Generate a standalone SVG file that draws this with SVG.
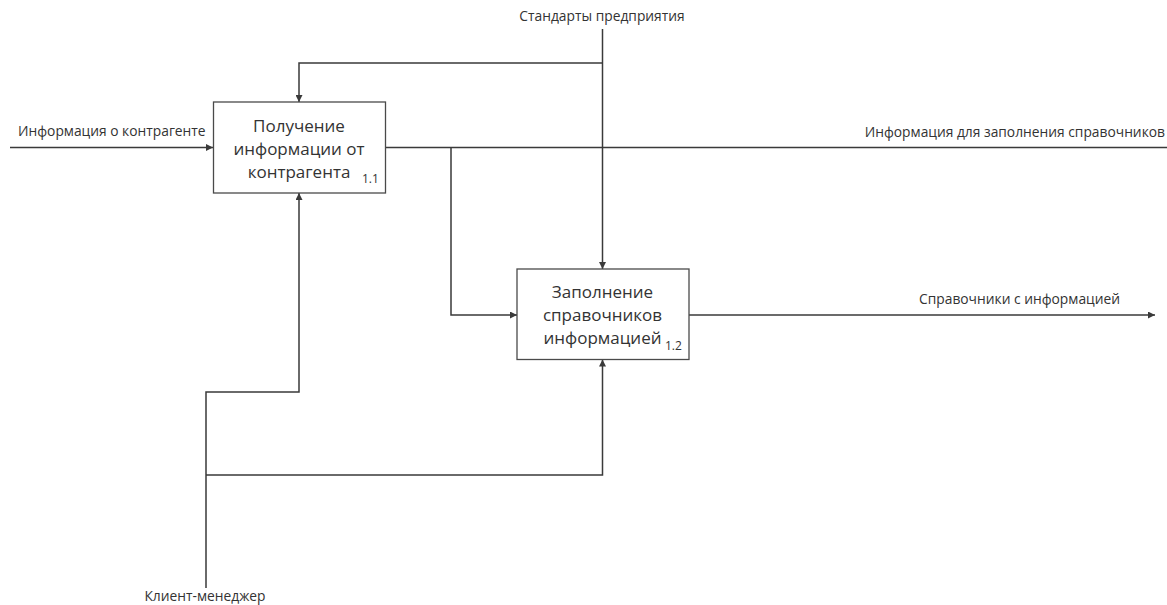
<svg xmlns="http://www.w3.org/2000/svg" width="1167" height="605" viewBox="0 0 1167 605">
<defs>
<marker id="ah" viewBox="0 0 10 10" refX="10" refY="5" markerWidth="7" markerHeight="7" markerUnits="userSpaceOnUse" orient="auto">
<path d="M0,0 L10,5 L0,10 z" fill="#3a3a3a"/>
</marker>
<style>
.ln{fill:none;stroke:#3a3a3a;stroke-width:1.5;}
.box{fill:#fff;stroke:#4a4a4a;stroke-width:1.3;}
.lbl{font-family:"Open Sans","Noto Sans",sans-serif;font-size:13.8px;fill:#333;}
.bt{font-family:"Open Sans","Noto Sans",sans-serif;font-size:17px;fill:#333;text-anchor:middle;}
.num{font-family:"Open Sans","Noto Sans",sans-serif;font-size:12px;fill:#333;}
</style>
</defs>
<rect width="1167" height="605" fill="#fff"/>
<g id="connectors">
<path class="ln" d="M10,147.5 H213" marker-end="url(#ah)"/>
<path class="ln" d="M602.5,29 V269" marker-end="url(#ah)"/>
<path class="ln" d="M602.5,63 H299 V102" marker-end="url(#ah)"/>
<path class="ln" d="M385.5,147.5 H1167"/>
<path class="ln" d="M451,147.5 V315 H517" marker-end="url(#ah)"/>
<path class="ln" d="M689,315 H1155" marker-end="url(#ah)"/>
<path class="ln" d="M206,588 V392 H299 V193" marker-end="url(#ah)"/>
<path class="ln" d="M206,475 H602.5 V359.5" marker-end="url(#ah)"/>
</g>
<g id="labels">
<text class="lbl" x="18" y="136">Информация о контрагенте</text>
<text class="lbl" x="602" y="21" text-anchor="middle">Стандарты предприятия</text>
<text class="lbl" x="1165" y="137" text-anchor="end">Информация для заполнения справочников</text>
<text class="lbl" x="1120" y="304" text-anchor="end">Справочники с информацией</text>
<text class="lbl" x="205" y="601" text-anchor="middle">Клиент-менеджер</text>
</g>
<g id="node-1-1">
<rect class="box" x="213.5" y="102" width="172" height="91"/>
<text class="bt" x="299" y="132">Получение</text>
<text class="bt" x="299" y="155">информации от</text>
<text class="bt" x="299" y="178">контрагента</text>
<text class="num" x="362" y="183">1.1</text>
</g>
<g id="node-1-2">
<rect class="box" x="517" y="269" width="172" height="90.5"/>
<text class="bt" x="602.5" y="298">Заполнение</text>
<text class="bt" x="602.5" y="321">справочников</text>
<text class="bt" x="602.5" y="344">информацией</text>
<text class="num" x="665" y="350">1.2</text>
</g>
</svg>
